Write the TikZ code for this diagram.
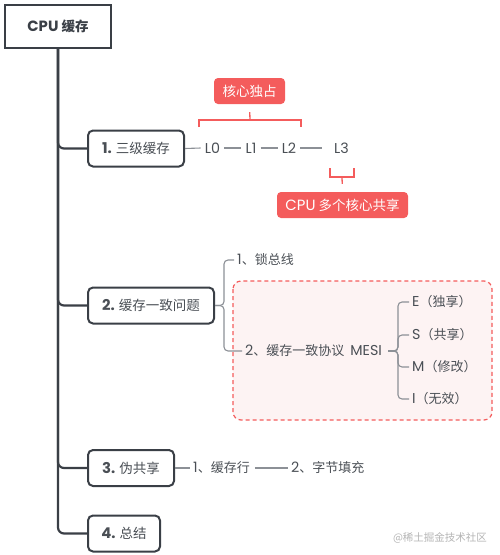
\documentclass[tikz,border=0pt]{standalone}
\usepackage{fontspec}
\setmainfont{Noto Sans CJK SC}
\newfontfamily\lat[Scale=1.1]{Poppins}
\usetikzlibrary{backgrounds}
\definecolor{dk}{HTML}{3A3F46}
\definecolor{tx}{HTML}{4A4F55}
\definecolor{sub}{HTML}{8C9096}
\definecolor{rd}{HTML}{F45C5C}
\definecolor{pk}{HTML}{FDF3F3}
\definecolor{wm}{HTML}{B4B4B4}
\tikzset{
  x=1pt,y=-1pt,
  rootbox/.style={draw=dk,line width=2pt,fill=white,font=\fontsize{13.5}{15}\selectfont\bfseries,text=dk,minimum width=106pt,minimum height=43pt,inner sep=0pt},
  topic/.style={draw=dk,line width=2pt,fill=white,rounded corners=5pt,font=\fontsize{13.5}{15}\selectfont,text=tx,minimum height=36pt,inner sep=0pt},
  trunk/.style={draw=dk,line width=2.2pt,rounded corners=6pt},
  subline/.style={draw=sub,line width=1.1pt},
  leaf/.style={font=\fontsize{13}{15}\selectfont,text=tx,inner xsep=3pt,inner ysep=1pt},
  redtag/.style={fill=rd,rounded corners=4pt,text=white,font=\fontsize{13.5}{15}\selectfont,minimum height=26pt,inner sep=0pt},
  redline/.style={draw=rd,line width=1.3pt},
}
\begin{document}
\begin{tikzpicture}
\useasboundingbox (0,0) rectangle (500,555);
% dashed region
\draw[draw=rd,fill=pk,dashed,dash pattern=on 4pt off 3pt,line width=1.2pt,rounded corners=8pt] (233,281) rectangle (492,420);

% root and topics
\node[rootbox] (root) at (58,26.5) {{\lat\bfseries CPU} 缓存};
\node[topic,minimum width=96pt] (n1) at (136,148.5) {{\lat\bfseries 1.} 三级缓存};
\node[topic,minimum width=126pt] (n2) at (151,305.5) {{\lat\bfseries 2.} 缓存一致问题};
\node[topic,minimum width=86pt] (n3) at (131,468) {{\lat\bfseries 3.} 伪共享};
\node[topic,minimum width=72pt] (n4) at (124,533.5) {{\lat\bfseries 4.} 总结};

\begin{scope}[on background layer]
\draw[trunk] (root.south) |- (n4.west);
\draw[trunk] (root.south) |- (n3.west);
\draw[trunk] (root.south) |- (n2.west);
\draw[trunk] (root.south) |- (n1.west);
\end{scope}

% L chain
\node[leaf,inner xsep=4pt] (l0) at (212.5,148) {\lat L0};
\node[leaf,inner xsep=4pt] (l1) at (251,148) {\lat L1};
\node[leaf,inner xsep=4pt] (l2) at (289,148) {\lat L2};
\node[leaf,inner xsep=4pt] (l3) at (341.5,148) {\lat L3};
\draw[subline] (n1.east) -- (l0.west);
\draw[subline] (l0.east) -- (l1.west);
\draw[subline] (l1.east) -- (l2.west);
\draw[subline,shorten >=8pt] (l2.east) -- (l3.west);

% brackets
\node[redtag,minimum width=71pt] (k1) at (249.5,91) {核心独占};
\coordinate (b1) at (250,120);
\draw[redline] (199,127) -- (199,120) -- (301,120) -- (301,127);
\draw[redline,shorten >=8pt] (b1) -- (k1.south);
\node[redtag,minimum width=131pt] (k2) at (342.5,205) {{\lat CPU} 多个核心共享};
\coordinate (b2) at (342,177);
\draw[redline] (330,168) -- (330,177) -- (354,177) -- (354,168);
\draw[redline,shorten >=8pt] (b2) -- (k2.north);

% cache coherence
\node[leaf,anchor=west] (lock) at (234,260) {{\lat 1}、锁总线};
\node[leaf,anchor=west] (mesi) at (242,351) {{\lat 2}、缓存一致协议\hspace{6pt}{\lat MESI}};
\draw[subline,rounded corners=4pt] (n2.east) -- ++(9,0) |- (lock.west);
\draw[subline,rounded corners=4pt] (n2.east) -- ++(9,0) |- (mesi.west);
\node[leaf,anchor=west] (e) at (409,302) {{\lat E}（独享）};
\node[leaf,anchor=west] (s) at (409,335) {{\lat S}（共享）};
\node[leaf,anchor=west] (m) at (409,367) {{\lat M}（修改）};
\node[leaf,anchor=west] (i) at (409,399) {{\lat I}（无效）};
\foreach \t in {e,s,m,i}{
  \draw[subline,rounded corners=4pt] (388,351) -- ++(10,0) |- (\t.west);
}

% false sharing
\node[leaf,anchor=west] (c1) at (190,468) {{\lat 1}、缓存行};
\node[leaf,anchor=west] (c2) at (288,468) {{\lat 2}、字节填充};
\draw[subline] (n3.east) -- (c1.west);
\draw[subline,shorten <=2pt] (c1.east) -- (c2.west);

% watermark
\node[font=\fontsize{10.5}{12}\selectfont,text=wm] (wmk) at (440,538) {@稀土掘金技术社区};
\end{tikzpicture}
\end{document}
